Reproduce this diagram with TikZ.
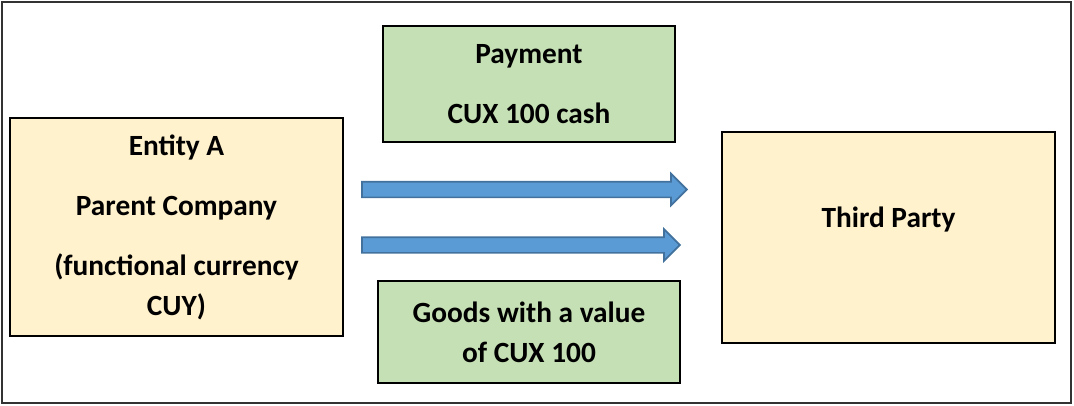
\documentclass[tikz,border=0pt]{standalone}
\usepackage{fontspec}
\setmainfont{Carlito}
\usepackage{tikz}
\usetikzlibrary{shapes,shapes.arrows,arrows.meta,positioning,calc}
\usepackage{xcolor}
\definecolor{entityYellow}{RGB}{255,242,204}
\definecolor{flowGreen}{RGB}{197,224,180}
\definecolor{flowBlue}{RGB}{91,155,213}
\definecolor{flowBlueEdge}{RGB}{65,113,156}
\definecolor{frameGray}{RGB}{50,50,50}

\begin{document}
\begin{tikzpicture}[x=0.75pt,y=-0.75pt,
    party/.style={draw=black,line width=1.1pt,fill=entityYellow,align=center,
      font=\fontsize{22}{29}\selectfont\bfseries,inner sep=0pt},
    flowbox/.style={draw=black,line width=1.1pt,fill=flowGreen,align=center,
      font=\fontsize{22}{29}\selectfont\bfseries,inner sep=0pt},
    flowarrow/.style={single arrow,draw=flowBlueEdge,line width=1.3pt,fill=flowBlue,
      inner xsep=0pt,inner ysep=5.25pt,single arrow head extend=6pt,
      single arrow head indent=0pt,anchor=west}]
        \useasboundingbox (0,0) rectangle (1074,405);
        % outer frame
        \draw[frameGray,line width=1.1pt] (2,2) rectangle (1071,403);
        % the two parties
        \node[party,minimum width=249.75pt,minimum height=163.5pt] (entity) at (176.5,227)
          {Entity A\\[16pt]Parent Company\\[16pt](functional currency\\[1pt]CUY)};
        \node[party,minimum width=249.75pt,minimum height=158.25pt,text depth=30pt] (third) at (888.5,237.5)
          {Third Party};
        % what goes across
        \node[flowbox,minimum width=219pt,minimum height=87pt] (payment) at (529,84)
          {Payment\\[16pt]CUX 100 cash};
        \node[flowbox,minimum width=226.5pt,minimum height=76.5pt] (goods) at (529,332)
          {Goods with a value\\[1pt]of CUX 100};
        % block arrows
        \node[flowarrow,minimum height=243.75pt] (payarrow) at (361,189.5) {};
        \node[flowarrow,minimum height=238.5pt] (goodsarrow) at (361,245) {};
      \end{tikzpicture}
\end{document}
